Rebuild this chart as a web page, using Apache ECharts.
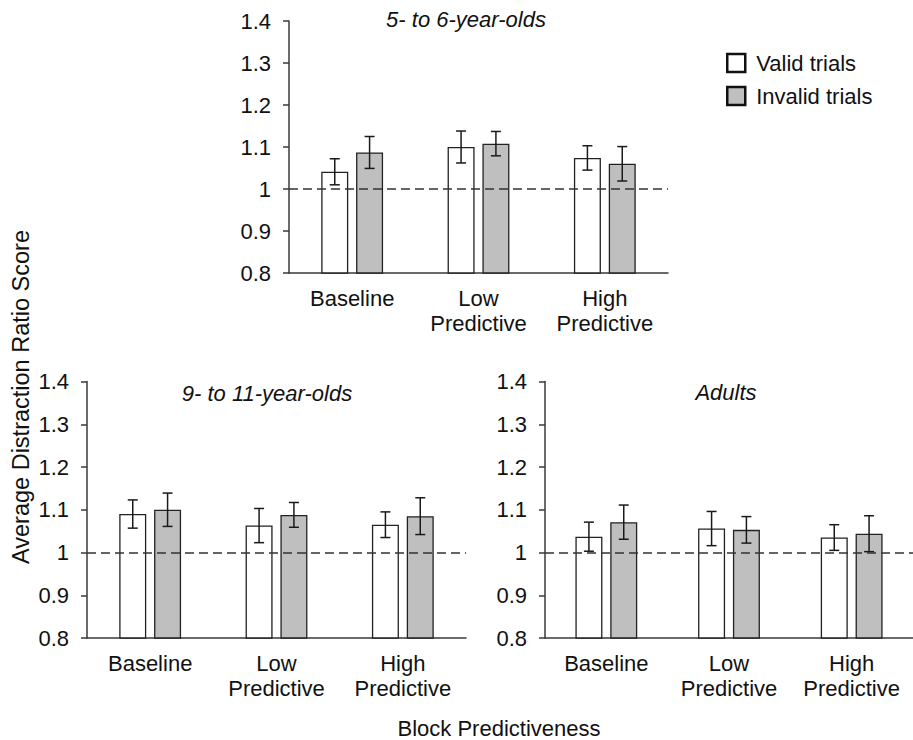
<!DOCTYPE html>
<html>
<head>
<meta charset="utf-8">
<script src="https://cdn.jsdelivr.net/npm/echarts@6/dist/echarts.min.js"></script>
<style>
html,body{margin:0;padding:0;background:#fff;}
#chart{width:913px;height:740px;}
</style>
</head>
<body>
<div id="chart"></div>
<script>
// ---- data ----
const categories = ['Baseline', 'Low\nPredictive', 'High\nPredictive'];
const seriesNames = ['Valid trials', 'Invalid trials'];
const panelTitles = ['5- to 6-year-olds', '9- to 11-year-olds', 'Adults'];

const young_valid = [1.041, 1.100, 1.074];
const young_validErr = [0.031, 0.038, 0.029];
const young_invalid = [1.087, 1.108, 1.060];
const young_invalidErr = [0.038, 0.029, 0.041];

const older_valid = [1.090, 1.063, 1.065];
const older_validErr = [0.033, 0.040, 0.030];
const older_invalid = [1.100, 1.088, 1.085];
const older_invalidErr = [0.039, 0.029, 0.043];

const adult_valid = [1.037, 1.056, 1.035];
const adult_validErr = [0.034, 0.040, 0.030];
const adult_invalid = [1.071, 1.053, 1.044];
const adult_invalidErr = [0.040, 0.031, 0.042];

const yMin = 0.8, yMax = 1.4, yStep = 0.1;
const refLine = 1;

// ---- style ----
const FONT = "'Liberation Sans', Arial, sans-serif";
const FS = 22;
const AXIS = '#3a3a3a';
const BAR_W = 27;
const GAP = 0.29;
const OFFSET = (BAR_W + BAR_W * GAP) / 2;

const grids = [
  { left: 289, top: 21, width: 379, height: 252 },
  { left: 87, top: 381.5, width: 379, height: 256.5 },
  { left: 545, top: 381.5, width: 379, height: 256.5 }
];

const panels = [
  [young_valid, young_validErr, young_invalid, young_invalidErr],
  [older_valid, older_validErr, older_invalid, older_invalidErr],
  [adult_valid, adult_validErr, adult_invalid, adult_invalidErr]
];

const xAxes = grids.map((g, i) => ({
  type: 'category', gridIndex: i, data: categories,
  axisLine: { lineStyle: { color: AXIS, width: 1.5 } },
  axisTick: { show: false },
  axisLabel: { color: '#111', fontSize: FS, fontFamily: FONT, margin: 13, lineHeight: 25, interval: 0 }
}));
const yAxes = grids.map((g, i) => ({
  type: 'value', gridIndex: i, min: yMin, max: yMax, interval: yStep,
  axisLine: { show: true, lineStyle: { color: AXIS, width: 1.5 } },
  axisTick: { show: true, length: 6, lineStyle: { color: AXIS, width: 1.5 } },
  splitLine: { show: false },
  axisLabel: { color: '#111', fontSize: FS, fontFamily: FONT, margin: 18,
    formatter: v => String(Math.round(v * 10) / 10) }
}));

function errSeries(gi, vals, errs, sign) {
  return {
    type: 'custom', xAxisIndex: gi, yAxisIndex: gi, z: 10, silent: true,
    data: vals.map((v, i) => [i, v - errs[i], v + errs[i]]),
    encode: { x: 0, y: [1, 2] },
    renderItem: function (params, api) {
      const lo = api.coord([api.value(0), api.value(1)]);
      const hi = api.coord([api.value(0), api.value(2)]);
      const x = lo[0] + sign * OFFSET;
      const st = { stroke: '#1a1a1a', lineWidth: 1.5 };
      return {
        type: 'group', children: [
          { type: 'line', shape: { x1: x, y1: lo[1], x2: x, y2: hi[1] }, style: st },
          { type: 'line', shape: { x1: x - 5, y1: lo[1], x2: x + 5, y2: lo[1] }, style: st },
          { type: 'line', shape: { x1: x - 5, y1: hi[1], x2: x + 5, y2: hi[1] }, style: st }
        ]
      };
    }
  };
}

const series = [];
panels.forEach((p, gi) => {
  series.push({
    name: seriesNames[0], type: 'bar', xAxisIndex: gi, yAxisIndex: gi, data: p[0],
    barWidth: BAR_W, barGap: (GAP * 100) + '%',
    itemStyle: { color: '#ffffff', borderColor: '#222', borderWidth: 1.3 }
  });
  series.push({
    name: seriesNames[1], type: 'bar', xAxisIndex: gi, yAxisIndex: gi, data: p[2],
    barWidth: BAR_W, barGap: (GAP * 100) + '%',
    itemStyle: { color: '#bfbfbf', borderColor: '#222', borderWidth: 1.3 },
    markLine: {
      silent: true, symbol: ['none', 'none'], label: { show: false }, z: 20,
      lineStyle: { color: '#333', width: 1.5, type: [9, 5] },
      data: [{ yAxis: refLine }]
    }
  });
  series.push(errSeries(gi, p[0], p[1], -1));
  series.push(errSeries(gi, p[2], p[3], 1));
});

const textEl = (txt, x, y, opts) => Object.assign({
  type: 'text', x: x, y: y,
  style: { text: txt, fill: '#111', font: (opts && opts.italic ? 'italic ' : '') + ((opts && opts.size) || FS) + 'px ' + FONT,
    textAlign: 'center', textVerticalAlign: 'middle' }
}, opts && opts.extra ? opts.extra : {});

const option = {
  animation: false,
  backgroundColor: '#fff',
  grid: grids,
  xAxis: xAxes,
  yAxis: yAxes,
  legend: {
    data: seriesNames, orient: 'vertical', left: 726, top: 52, padding: 0,
    itemWidth: 18, itemHeight: 18, itemGap: 11, icon: 'rect',
    itemStyle: { borderColor: '#111', borderWidth: 2.5 },
    textStyle: { fontSize: FS, fontFamily: FONT, color: '#111', lineHeight: 22, padding: [0, 0, 0, 6] },
    selectedMode: false
  },
  graphic: [
    textEl(panelTitles[0], 466, 19, { italic: true }),
    textEl(panelTitles[1], 267, 393, { italic: true }),
    textEl(panelTitles[2], 726, 392, { italic: true }),
    textEl('Average Distraction Ratio Score', 21, 397, { size: 23.5, extra: { rotation: Math.PI / 2 } }),
    textEl('Block Predictiveness', 499, 728)
  ],
  series: series
};

const chart = echarts.init(document.getElementById('chart'), null, { renderer: 'svg' });
chart.setOption(option);
</script>
</body>
</html>
